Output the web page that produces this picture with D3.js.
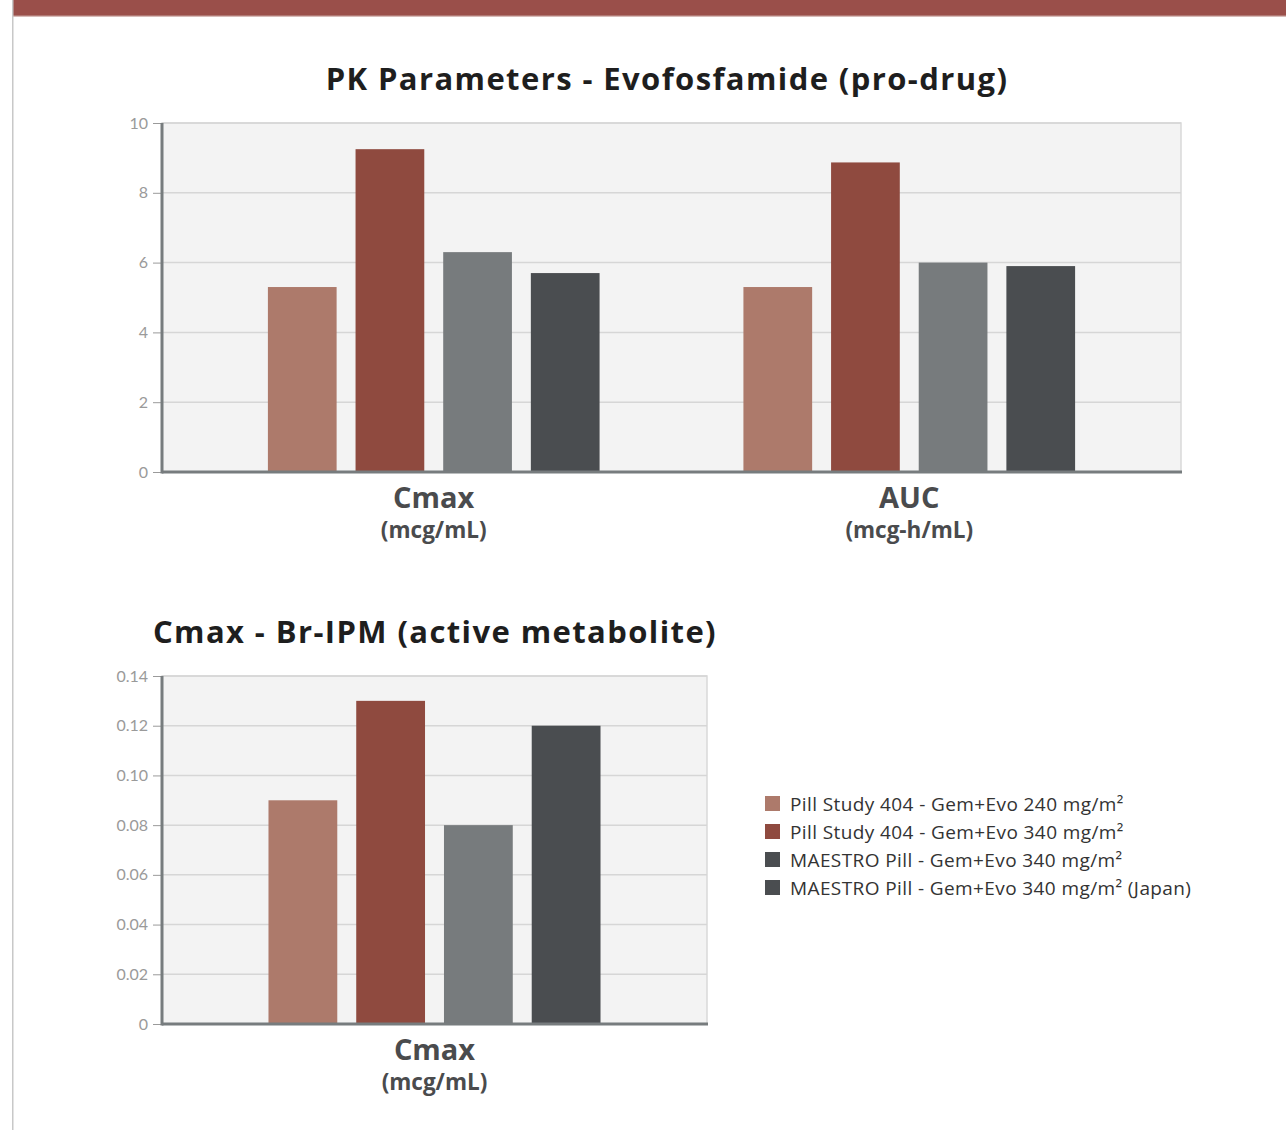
<!DOCTYPE html>
<html>
<head>
<meta charset="utf-8">
<script src="https://cdn.jsdelivr.net/npm/d3@7"></script>
<style>
body { margin:0; background:#fff; }
svg text { font-family: "Open Sans", Lato, sans-serif; }
.grid line { stroke:#d6d6d6; stroke-width:1.5; }
.yaxis text { fill:#9a9a9a; font-size:16px; font-family: Lato, sans-serif; }
.yaxis line { stroke:#9a9a9a; }
</style>
</head>
<body>
<svg id="myGraph" width="1286" height="1130"></svg>
<script>
// series names (legend)
var seriesNames = [
  "Pill Study 404 - Gem+Evo 240 mg/m²",
  "Pill Study 404 - Gem+Evo 340 mg/m²",
  "MAESTRO Pill - Gem+Evo 340 mg/m²",
  "MAESTRO Pill - Gem+Evo 340 mg/m² (Japan)"
];
var barColors = ["#ad7a6b", "#8f4a3f", "#777b7d", "#4a4d50"];
var legendColors = ["#ad7a6b", "#8f4a3f", "#4a4d50", "#4a4d50"];

// chart 1: PK parameters - prodrug
var pkCategories = ["Cmax", "AUC"];
var pkUnits = ["(mcg/mL)", "(mcg-h/mL)"];
var pkValues = [
  [5.3, 9.25, 6.3, 5.7],   // Cmax
  [5.3, 8.87, 6.0, 5.9]    // AUC
];
var pkTicks = [0, 2, 4, 6, 8, 10];

// chart 2: Cmax Br-IPM
var brCategories = ["Cmax"];
var brUnits = ["(mcg/mL)"];
var brValues = [
  [0.09, 0.13, 0.08, 0.12]
];
var brTicks = [0, 0.02, 0.04, 0.06, 0.08, 0.10, 0.12, 0.14];

var svg = d3.select("#myGraph");

// page frame: top bar and left rule
svg.append("rect").attr("x", 13).attr("y", 0).attr("width", 1273).attr("height", 16).attr("fill", "#9a4f4a");
svg.append("rect").attr("x", 13).attr("y", 15).attr("width", 1273).attr("height", 1.5).attr("fill", "#b07873");
svg.append("rect").attr("x", 12).attr("y", 0).attr("width", 1.5).attr("height", 1130).attr("fill", "#c8c8c8");

function drawChart(opt) {
  var g = svg.append("g");
  var x0 = d3.scaleBand()
    .domain(opt.categories)
    .range([opt.left, opt.right])
    .paddingInner(0.3025)
    .paddingOuter(opt.outer);
  var x1 = d3.scaleBand()
    .domain(d3.range(seriesNames.length))
    .range([0, x0.bandwidth()])
    .paddingInner(0.216);
  var y = d3.scaleLinear()
    .domain([0, opt.max])
    .range([opt.bottom, opt.top]);

  // plot background
  g.append("rect")
    .attr("x", opt.left).attr("y", opt.top)
    .attr("width", opt.right - opt.left).attr("height", opt.bottom - opt.top)
    .attr("fill", "#f3f3f3")
    .attr("stroke", "#d9d9d9").attr("stroke-width", 1.5);

  // gridlines
  g.append("g").attr("class", "grid")
    .selectAll("line").data(opt.ticks.slice(1)).join("line")
    .attr("x1", opt.left).attr("x2", opt.right)
    .attr("y1", function(d){ return y(d); })
    .attr("y2", function(d){ return y(d); });

  // bars
  g.selectAll("g.grp").data(opt.values).join("g")
    .attr("class", "grp")
    .attr("transform", function(d, i){ return "translate(" + x0(opt.categories[i]) + ",0)"; })
    .selectAll("rect").data(function(d){ return d; }).join("rect")
    .attr("x", function(d, i){ return x1(i); })
    .attr("width", x1.bandwidth())
    .attr("y", function(d){ return y(d); })
    .attr("height", function(d){ return opt.bottom - y(d); })
    .attr("fill", function(d, i){ return barColors[i]; });

  // y axis
  var axis = d3.axisLeft(y).tickValues(opt.ticks).tickFormat(opt.fmt).tickSize(9).tickPadding(5);
  var ax = g.append("g").attr("class", "yaxis")
    .attr("transform", "translate(" + opt.left + ",0)")
    .call(axis);
  ax.select(".domain").remove();

  // axis lines
  g.append("line").attr("x1", opt.left).attr("x2", opt.left)
    .attr("y1", opt.top).attr("y2", opt.bottom + 1.5)
    .attr("stroke", "#777c7e").attr("stroke-width", 3);
  g.append("line").attr("x1", opt.left).attr("x2", opt.right + 1)
    .attr("y1", opt.bottom).attr("y2", opt.bottom)
    .attr("stroke", "#777c7e").attr("stroke-width", 3);

  // category labels
  opt.categories.forEach(function(c, i){
    var cx = x0(c) + x0.bandwidth() / 2;
    g.append("text").attr("x", cx).attr("y", opt.bottom + 36)
      .attr("text-anchor", "middle").attr("font-size", 29).attr("font-weight", 700)
      .attr("fill", "#4a4b4d").text(c);
    g.append("text").attr("x", cx).attr("y", opt.bottom + 66)
      .attr("text-anchor", "middle").attr("font-size", 22.5).attr("font-weight", 700)
      .attr("fill", "#4a4b4d").text(opt.units[i]);
  });

  // title
  g.append("text").attr("x", opt.titleX).attr("y", opt.titleY)
    .attr("text-anchor", "middle").attr("font-size", 31).attr("font-weight", 700)
    .attr("letter-spacing", 1.4)
    .attr("fill", "#1e1e1e").text(opt.title);
}

drawChart({
  title: "PK Parameters - Evofosfamide (pro-drug)", titleX: 667, titleY: 90,
  categories: pkCategories, units: pkUnits, values: pkValues, ticks: pkTicks, max: 10,
  fmt: d3.format("d"), left: 162, right: 1181, top: 123, bottom: 472, outer: 0.2227
});

drawChart({
  title: "Cmax - Br-IPM (active metabolite)", titleX: 435, titleY: 643,
  categories: brCategories, units: brUnits, values: brValues, ticks: brTicks, max: 0.14,
  fmt: function(d){ return d === 0 ? "0" : d3.format(".2f")(d); },
  left: 162, right: 707, top: 676, bottom: 1024, outer: 0.2237
});

// legend
var legend = svg.append("g").attr("transform", "translate(765,796)");
var items = legend.selectAll("g").data(seriesNames).join("g")
  .attr("transform", function(d, i){ return "translate(0," + (i * 28) + ")"; });
items.append("rect").attr("width", 15).attr("height", 15)
  .attr("fill", function(d, i){ return legendColors[i]; });
items.append("text").attr("x", 25).attr("y", 14.5)
  .attr("font-size", 19).attr("letter-spacing", 0.4).attr("fill", "#333")
  .text(function(d){ return d; });
</script>
</body>
</html>
